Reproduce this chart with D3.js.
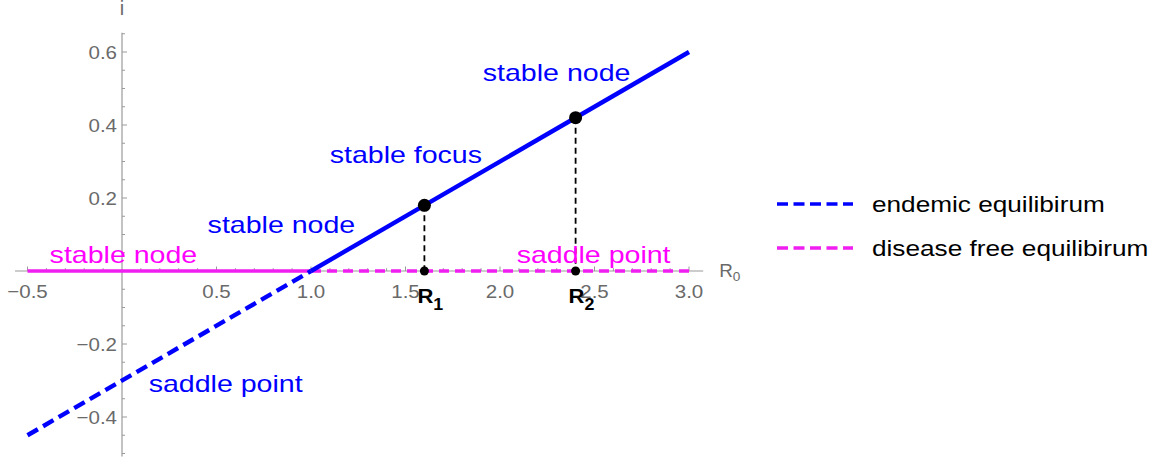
<!DOCTYPE html>
<html>
<head>
<meta charset="utf-8">
<script src="https://cdn.jsdelivr.net/npm/d3@7"></script>
<style>
  html, body { margin: 0; padding: 0; background: #fff; }
  svg { display: block; }
  text { font-family: "Liberation Sans", Arial, sans-serif; }
</style>
</head>
<body>
<svg id="chart" width="1168" height="461"></svg>
<script>
// Bifurcation diagram: equilibrium level i versus basic reproduction number R0

// Endemic equilibrium branch i*(R0)
const endemicUnstableR0 = [-0.5, 1.0];
const endemicUnstableI  = [-0.45, 0.0];
const endemicStableR0   = [1.0, 3.0];
const endemicStableI    = [0.0, 0.6];

// Disease free equilibrium branch i = 0
const dfeStableR0   = [-0.5, 1.0];
const dfeUnstableR0 = [1.0, 3.0];
const dfeI = 0;

// Transition points on the endemic branch
const markNames = ["1", "2"];
const markR0    = [1.6, 2.4];
const markI     = [0.18, 0.42];

// Tick labels
const xTickValues = [-0.5, 0.5, 1.0, 1.5, 2.0, 2.5, 3.0];
const xTickLabels = ["\u22120.5", "0.5", "1.0", "1.5", "2.0", "2.5", "3.0"];
const yTickValues = [-0.4, -0.2, 0.2, 0.4, 0.6];
const yTickLabels = ["\u22120.4", "\u22120.2", "0.2", "0.4", "0.6"];

// Stability annotations (text, anchor R0, anchor i, colour)
const noteText  = ["stable node", "saddle point", "stable node", "stable focus", "stable node", "saddle point"];
const noteR0    = [-0.383, 2.088, 0.453, 1.099, 1.909, 0.141];
const noteI     = [0.022, 0.022, 0.104, 0.296, 0.521, -0.332];
const noteColor = ["#ff00ff", "#ff00ff", "#0000ff", "#0000ff", "#0000ff", "#0000ff"];

// Legend entries
const legendNames  = ["endemic equilibirum", "disease free equilibirum"];
const legendColors = ["#0000ff", "#f01ef0"];

const BLUE = "#0000ff";
const PINK = "#f01ef0";
const AXIS = "#9a9a9a";
const LABEL = "#6a6a6a";

const svg = d3.select("#chart");

const x = d3.scaleLinear().domain([-0.5, 3.0]).range([27.5, 689]);
const y = d3.scaleLinear().domain([-0.4, 0.6]).range([417, 52]);

// helper: text with horizontal stretch
function stretched(g, txt, px, py, size, sx, anchor, fill, weight) {
  const t = g.append("text")
    .attr("transform", `translate(${px},${py}) scale(${sx},1)`)
    .attr("font-size", size)
    .attr("fill", fill)
    .attr("text-anchor", anchor || "start")
    .text(txt);
  if (weight) t.attr("font-weight", weight);
  return t;
}

// ---- axes ----
const axes = svg.append("g");
// x axis line
axes.append("line")
  .attr("x1", x(-0.566)).attr("x2", x(3.075))
  .attr("y1", y(0)).attr("y2", y(0))
  .attr("stroke", AXIS).attr("stroke-width", 1.2);
// y axis line
axes.append("line")
  .attr("x1", x(0)).attr("x2", x(0))
  .attr("y1", y(0.653)).attr("y2", y(-0.508))
  .attr("stroke", AXIS).attr("stroke-width", 1.2);

// x ticks (pointing up), minor every 0.1, major every 0.5
const xMinor = d3.range(-5, 31).map(k => k / 10).filter(v => Math.abs(v) > 1e-9);
axes.selectAll(".xt").data(xMinor).join("line")
  .attr("x1", d => x(d)).attr("x2", d => x(d))
  .attr("y1", y(0))
  .attr("y2", d => y(0) - (Math.abs(d * 2 - Math.round(d * 2)) < 1e-9 ? 4.5 : 2.8))
  .attr("stroke", AXIS).attr("stroke-width", 1);

// y ticks (pointing right), minor every 0.05, major every 0.2
const yMinor = d3.range(-10, 14).map(k => k / 20).filter(v => Math.abs(v) > 1e-9);
axes.selectAll(".yt").data(yMinor).join("line")
  .attr("y1", d => y(d)).attr("y2", d => y(d))
  .attr("x1", x(0))
  .attr("x2", d => x(0) + (Math.abs(d * 5 - Math.round(d * 5)) < 1e-9 ? 5 : 3))
  .attr("stroke", AXIS).attr("stroke-width", 1);

// tick labels
xTickValues.forEach((v, k) => {
  stretched(axes, xTickLabels[k], x(v), y(0) + 27, 19, 1.08, "middle", LABEL);
});
yTickValues.forEach((v, k) => {
  stretched(axes, yTickLabels[k], x(0) - 5, y(v) + 7, 19, 1.08, "end", LABEL);
});

// axis titles
stretched(axes, "i", x(0), 15, 20, 1.0, "middle", LABEL);
const r0 = stretched(axes, "R", x(3.075) + 16, y(0) + 6, 18, 1.05, "start", LABEL);
r0.append("tspan").attr("font-size", 13).attr("dy", 4).text("0");

// ---- curves ----
const line = d3.line().x(d => x(d[0])).y(d => y(d[1]));
const curves = svg.append("g");

// disease free branch
curves.append("path")
  .attr("d", line(dfeStableR0.map(r => [r, dfeI])))
  .attr("fill", "none").attr("stroke", PINK).attr("stroke-width", 3.6);
curves.append("path")
  .attr("d", line(dfeUnstableR0.map(r => [r, dfeI])))
  .attr("fill", "none").attr("stroke", PINK).attr("stroke-width", 3.6)
  .attr("stroke-dasharray", "10,6");

// endemic branch
curves.append("path")
  .attr("d", line(endemicUnstableR0.map((r, k) => [r, endemicUnstableI[k]])))
  .attr("fill", "none").attr("stroke", BLUE).attr("stroke-width", 4.4)
  .attr("stroke-dasharray", "12,6");
curves.append("path")
  .attr("d", line(endemicStableR0.map((r, k) => [r, endemicStableI[k]])))
  .attr("fill", "none").attr("stroke", BLUE).attr("stroke-width", 4.4);

// ---- transition markers ----
const marks = svg.append("g");
markR0.forEach((r, k) => {
  marks.append("line")
    .attr("x1", x(r)).attr("x2", x(r))
    .attr("y1", y(markI[k])).attr("y2", y(0))
    .attr("stroke", "#000").attr("stroke-width", 1.8)
    .attr("stroke-dasharray", "6,4");
  marks.append("circle")
    .attr("cx", x(r)).attr("cy", y(0)).attr("r", 4.5).attr("fill", "#000");
  marks.append("circle")
    .attr("cx", x(r)).attr("cy", y(markI[k])).attr("r", 6.5).attr("fill", "#000");
  const t = stretched(marks, "R", x(r) - 7, y(0) + 32, 21, 1.05, "start", "#000", "bold");
  t.append("tspan").attr("font-size", 17).attr("dy", 7).text(markNames[k]);
});

// ---- stability annotations ----
const notes = svg.append("g");
noteText.forEach((txt, k) => {
  stretched(notes, txt, x(noteR0[k]), y(noteI[k]), 24, 1.19, "start", noteColor[k]);
});

// ---- legend ----
const legend = svg.append("g");
const legendY = [204, 248];
legendNames.forEach((name, k) => {
  legend.append("line")
    .attr("x1", 777).attr("x2", 853)
    .attr("y1", legendY[k]).attr("y2", legendY[k])
    .attr("stroke", legendColors[k]).attr("stroke-width", 3.6)
    .attr("stroke-dasharray", "11,5.5");
  stretched(legend, name, 872, legendY[k] + 8, 22, 1.19, "start", "#000");
});
</script>
</body>
</html>
